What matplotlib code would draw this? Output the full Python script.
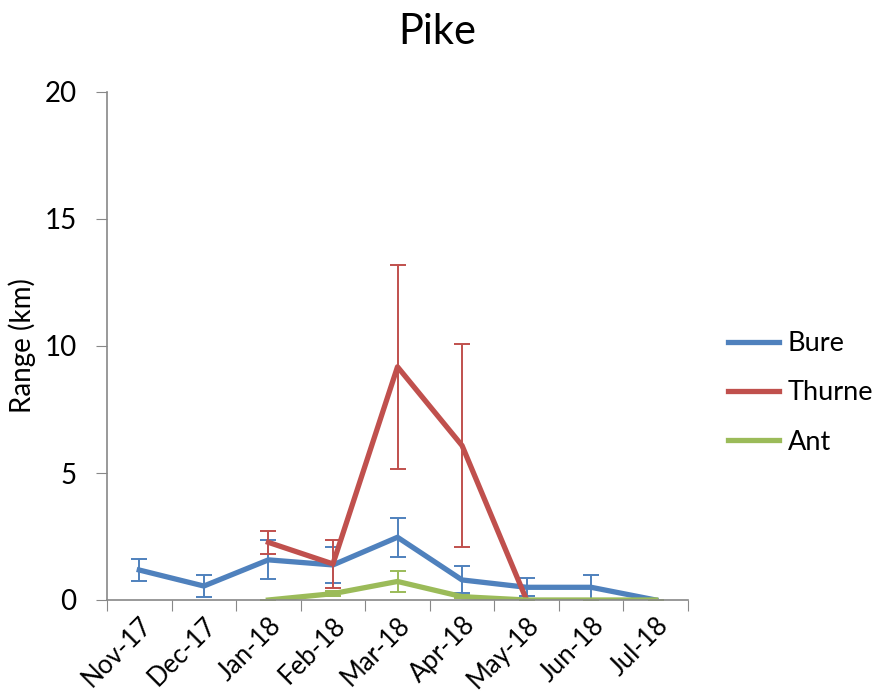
import numpy as np
import matplotlib
matplotlib.use('Agg')
import matplotlib.pyplot as plt

months = ["Nov-17", "Dec-17", "Jan-18", "Feb-18", "Mar-18", "Apr-18", "May-18", "Jun-18", "Jul-18"]

# Bure: all months
bure = [1.18, 0.55, 1.58, 1.38, 2.47, 0.79, 0.50, 0.50, 0.0]
bure_err = [0.45, 0.43, 0.77, 0.70, 0.76, 0.53, 0.35, 0.48, 0.0]

# Thurne: Jan-18 .. May-18
thurne = [2.27, 1.42, 9.18, 6.08, 0.0]
thurne_err = [0.45, 0.93, 4.02, 4.0, 0.0]

# Ant: Jan-18 .. Jul-18
ant = [0.0, 0.25, 0.73, 0.13, 0.0, 0.0, 0.0]
ant_err = [0.0, 0.1, 0.42, 0.05, 0.0, 0.0, 0.0]

plt.rcParams['font.family'] = ['Lato', 'DejaVu Sans']

fig = plt.figure(figsize=(8.75, 7), dpi=100)
ax = fig.add_axes([107 / 875, 100 / 700, 581 / 875, 508 / 700])

x = np.arange(len(months))
series = [
    ("Bure", x, bure, bure_err, "#4F81BD"),
    ("Thurne", x[2:7], thurne, thurne_err, "#C0504D"),
    ("Ant", x[2:], ant, ant_err, "#9BBB59"),
]
for name, xs, ys, err, col in series:
    ax.errorbar(xs, ys, yerr=err, fmt='none', ecolor=col, elinewidth=1.4,
                capsize=6, capthick=1.4)
    ax.plot(xs, ys, color=col, linewidth=3.8, label=name,
            solid_joinstyle='round')

ax.set_xlim(-0.5, len(months) - 0.5)
ax.set_ylim(0, 20)
ax.set_yticks([0, 5, 10, 15, 20])
ax.set_xticks(np.arange(-0.5, len(months)))
ax.set_xticklabels([])
ax.set_xticks(x, minor=True)
ax.set_xticklabels(months, minor=True, rotation=45, ha='right',
                   rotation_mode='anchor', fontsize=18.5)
ax.tick_params(axis='x', which='minor', length=0, pad=9)
ax.tick_params(axis='x', which='major', length=8, color='#888888', direction='out')
ax.tick_params(axis='y', length=8, color='#888888', direction='out', labelsize=20, pad=14)

for s in ['top', 'right']:
    ax.spines[s].set_visible(False)
for s in ['left', 'bottom']:
    ax.spines[s].set_color('#888888')
    ax.spines[s].set_linewidth(1.2)

ax.set_ylabel("Range (km)", fontsize=20)
ax.yaxis.set_label_coords((36 - 107) / 581, 0.5)
fig.text(0.5, 1 - 32 / 700, "Pike", ha='center', va='center', fontsize=30)

ax.legend(loc='center left', bbox_to_anchor=(728 / 875, 1 - 393 / 700),
          bbox_transform=fig.transFigure, frameon=False, fontsize=19.5,
          handlelength=1.9, handletextpad=0.3, labelspacing=0.9,
          borderpad=0, borderaxespad=0)

fig.savefig("out.png", dpi=100)
